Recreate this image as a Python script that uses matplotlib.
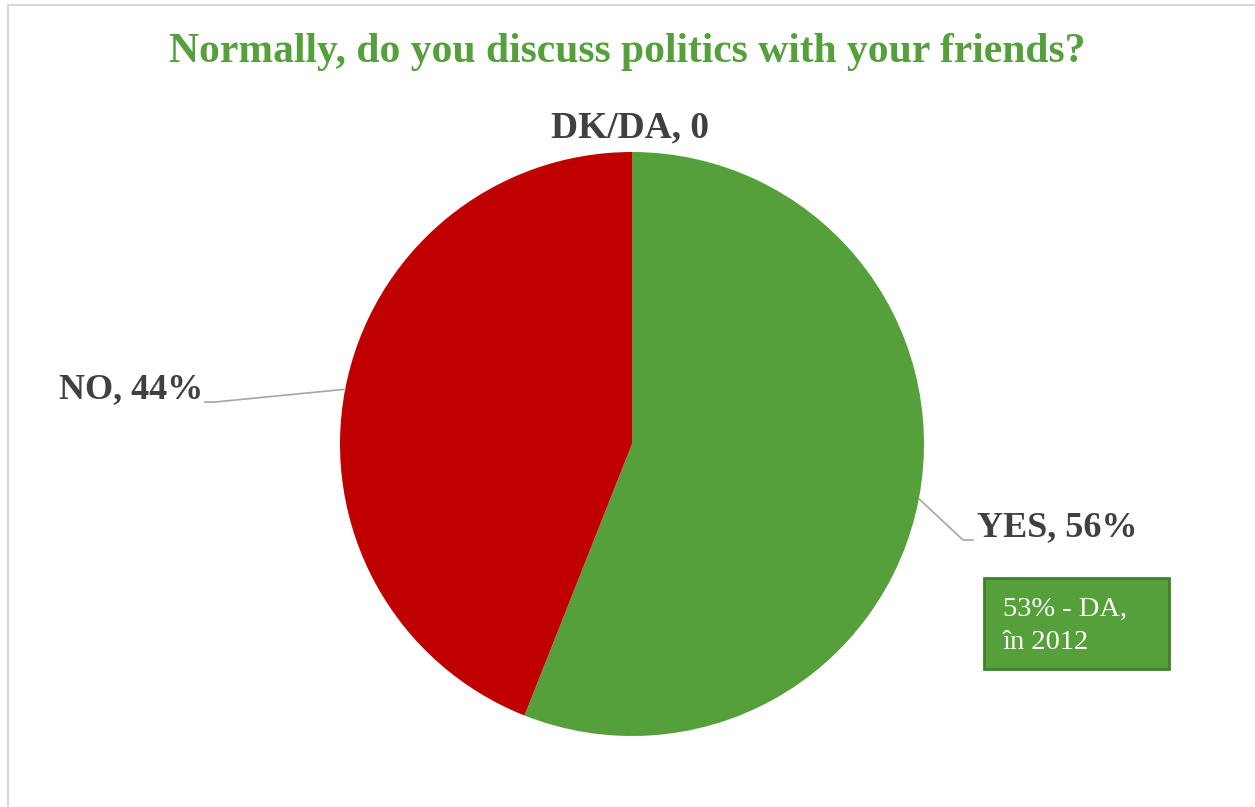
import numpy as np
import matplotlib.pyplot as plt

# data
categories = ['YES', 'NO', 'DK/DA']
values = [56, 44, 0]
label_texts = ['YES, 56%', 'NO, 44%', 'DK/DA, 0']
colors = ['#55A03B', '#C00000', '#A5A5A5']
note_lines = ['53% - DA,', 'în 2012']
title = 'Normally, do you discuss politics with your friends?'

W, H = 1255, 807
fig = plt.figure(figsize=(W / 100, H / 100), dpi=100)
ax = fig.add_axes([0, 0, 1, 1])

plt.rcParams['font.family'] = ['Liberation Serif', 'DejaVu Serif']

cx, cy, r = 632, H - 444, 292
wedges, _ = ax.pie(values, colors=colors, startangle=90, counterclock=False,
                   center=(cx, cy), radius=r, frame=True,
                   wedgeprops=dict(linewidth=0))
ax.set_xlim(0, W)
ax.set_ylim(0, H)
ax.set_aspect('equal')
ax.axis('off')

# chart frame (cropped, only top and left visible)
ax.plot([7, W], [H - 5, H - 5], color='#D9D9D9', lw=1.5, solid_capstyle='butt')
ax.plot([7.5, 7.5], [0, H - 5], color='#D9D9D9', lw=1.5, solid_capstyle='butt')

ax.text(W / 2, H - 52, title, ha='center', va='center', fontsize=30,
        fontweight='bold', color='#55A03B')

lab_col = '#404040'
lead_col = '#A6A6A6'

def mid_point(w):
    a = np.deg2rad((w.theta1 + w.theta2) / 2)
    return cx + r * np.cos(a), cy + r * np.sin(a)

# YES
x0, y0 = mid_point(wedges[0])
ax.plot([x0, 963, 973], [y0, H - 540, H - 540], color=lead_col, lw=1.2)
ax.text(977, H - 528, label_texts[0], ha='left', va='center', fontsize=26,
        fontweight='bold', color=lab_col)

# NO
x0, y0 = mid_point(wedges[1])
ax.plot([x0, 215, 205], [y0, H - 402, H - 402], color=lead_col, lw=1.2)
ax.text(203, H - 390, label_texts[1], ha='right', va='center', fontsize=26,
        fontweight='bold', color=lab_col)

# DK/DA
ax.text(630, H - 128, label_texts[2], ha='center', va='center', fontsize=27,
        fontweight='bold', color=lab_col)

# note box
box = plt.Rectangle((984, H - 669), 185, 91, facecolor='#55A03B',
                    edgecolor='#41802C', lw=2)
ax.add_patch(box)
for i, line in enumerate(note_lines):
    ax.text(1003, H - 616 - 33 * i, line, ha='left', va='baseline',
            fontsize=20.5, color='white')

fig.savefig('out.png', dpi=100)
